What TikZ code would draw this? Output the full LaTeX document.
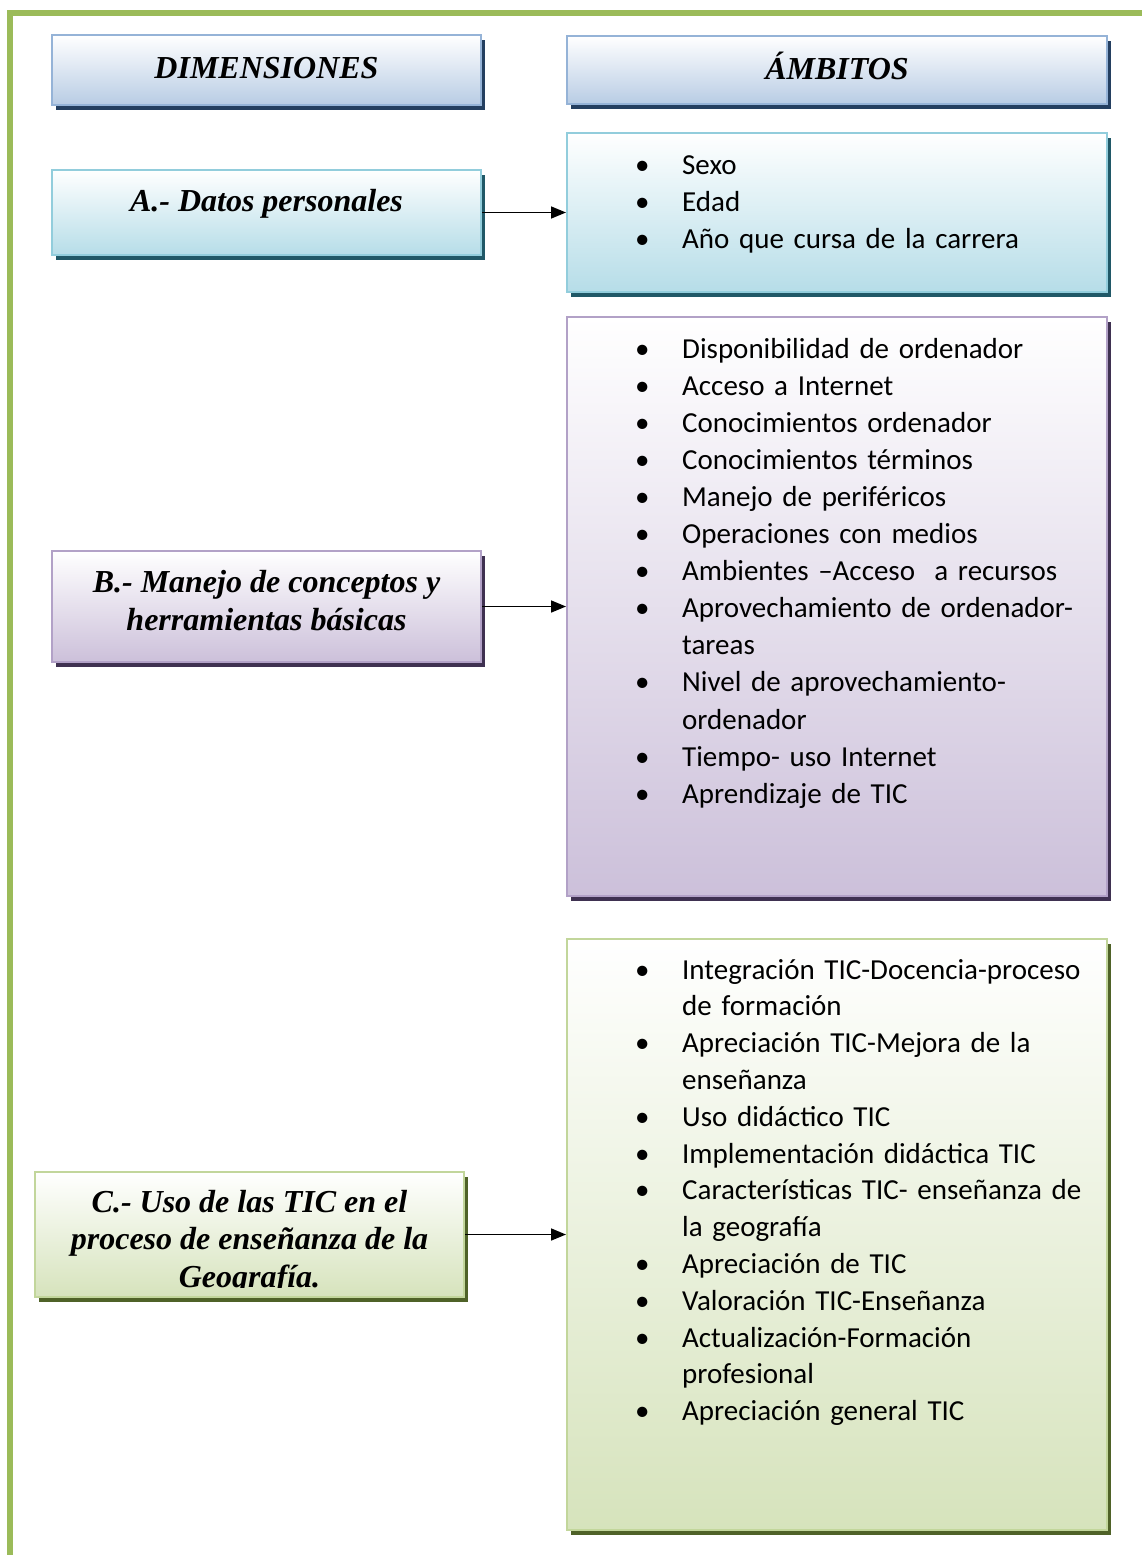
\documentclass[tikz,border=0pt]{standalone}
\usepackage{fontspec}
\setmainfont{Liberation Serif}
\newfontfamily\carlito{Carlito}
\usetikzlibrary{arrows.meta,calc,positioning,shadows}

\definecolor{azulline}{HTML}{95B3D7}
\definecolor{azulfill}{HTML}{B8CCE4}
\definecolor{azuldark}{HTML}{243F60}
\definecolor{aqualine}{HTML}{92CDDC}
\definecolor{aquafill}{HTML}{B6DDE8}
\definecolor{aquadark}{HTML}{205867}
\definecolor{lilaline}{HTML}{B2A1C7}
\definecolor{lilafill}{HTML}{CCC0DA}
\definecolor{liladark}{HTML}{3F3151}
\definecolor{verdeline}{HTML}{C2D69B}
\definecolor{verdefill}{HTML}{D6E3BC}
\definecolor{verdedark}{HTML}{4F6228}
\definecolor{marco}{HTML}{9BBB59}

% one bullet item of a list box
\newcommand\amb[1]{\hangindent=47pt\hangafter=1\noindent\hbox to 47pt{\textbullet\hfil}#1\par}

\begin{document}
\begin{tikzpicture}[x=1pt,y=-1pt,
  box/.style={draw=#1line,line width=2pt,top color=white,bottom color=#1fill,
    minimum width=429pt,inner sep=0pt,
    drop shadow={shadow xshift=4pt,shadow yshift=-5pt,fill=#1dark,opacity=1}},
  wide/.style={minimum width=540pt},
  title/.style={font={\fontsize{32}{37.5}\selectfont\bfseries\itshape},align=center,anchor=base,inner sep=0pt},
  items/.style={font={\carlito\fontsize{29}{37.1}\selectfont},text width=490pt,align=left,anchor=base west,inner sep=0pt},
  arrow/.style={-{Triangle[length=15pt,width=12pt]},line width=1.6pt},
  frame/.style={draw=marco,line width=6pt}
]
\useasboundingbox (0,0) rectangle (1141,1555);
\draw[frame] (9.5,1560) |- (1145,13.5);

% headers
\node[box=azul,minimum height=70pt] (dim) at (266.5,70) {};
\node[box=azul,wide,minimum height=68pt,right=84pt of dim] (amb) {};
\node[title] (tdim) at ($(dim.north)+(0,44)$) {DIMENSIONES};
\node[title] (tamb) at ($(amb.north)+(0,44)$) {ÁMBITOS};

% A
\node[box=aqua,minimum height=85pt] (pA) at (266.5,212.5) {};
\node[box=aqua,wide,minimum height=159pt,right=84pt of pA] (lA) {};
\node[title] (tA) at ($(pA.north)+(0,42)$) {A.- Datos personales};
\node[items] (iA) at ($(lA.north west)+(69,42)$) {\amb{Sexo}\amb{Edad}\amb{Año que cursa de la carrera}};

% B
\node[box=lila,minimum height=111pt] (pB) at (266.5,606.5) {};
\node[box=lila,wide,minimum height=579pt,right=84pt of pB] (lB) {};
\node[title] (tB) at ($(pB.north)+(0,80)$) {B.- Manejo de conceptos y\\herramientas básicas};
\node[items] (iB) at ($(lB.north west)+(69,42)$) {%
  \amb{Disponibilidad de ordenador}
  \amb{Acceso a Internet}
  \amb{Conocimientos ordenador}
  \amb{Conocimientos términos}
  \amb{Manejo de periféricos}
  \amb{Operaciones con medios}
  \amb{Ambientes –Acceso\ \ a recursos}
  \amb{Aprovechamiento de ordenador-\newline tareas}
  \amb{Nivel de aprovechamiento-\newline ordenador}
  \amb{Tiempo- uso Internet}
  \amb{Aprendizaje de TIC}};

% C
\node[box=verde,minimum height=125pt] (pC) at (249.5,1234.5) {};
\node[box=verde,wide,minimum height=591pt,right=101pt of pC] (lC) {};
\begin{scope}
  \clip (pC.north west) rectangle ($(pC.south east)+(0,-11)$);
  \node[title] (tC) at ($(pC.north)+(0,116)$) {C.- Uso de las TIC en el\\proceso de enseñanza de la\\Geografía.};
\end{scope}
\node[items,font={\carlito\fontsize{29}{36.8}\selectfont}] (iC) at ($(lC.north west)+(69,41)$) {%
  \amb{Integración TIC-Docencia-proceso\newline de formación}
  \amb{Apreciación TIC-Mejora de la\newline enseñanza}
  \amb{Uso didáctico TIC}
  \amb{Implementación didáctica TIC}
  \amb{Características TIC- enseñanza de\newline la geografía}
  \amb{Apreciación de TIC}
  \amb{Valoración TIC-Enseñanza}
  \amb{Actualización-Formación\newline profesional}
  \amb{Apreciación general TIC}};

\draw[arrow] (pA) -- (lA);
\draw[arrow] (pB) -- (lB);
\draw[arrow] (pC) -- (lC);
\end{tikzpicture}
\end{document}
